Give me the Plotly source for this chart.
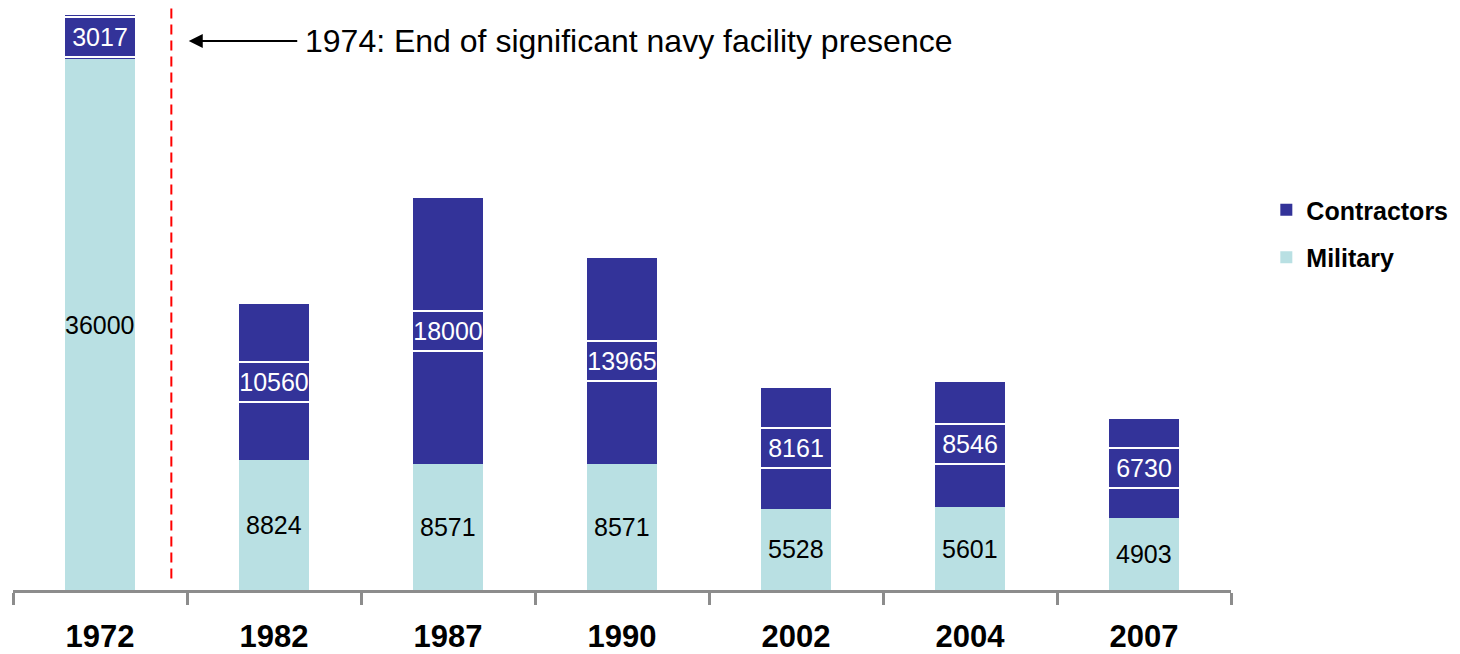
import plotly.graph_objects as go

years = ["1972", "1982", "1987", "1990", "2002", "2004", "2007"]
military = [36000, 8824, 8571, 8571, 5528, 5601, 4903]
contractors = [3017, 10560, 18000, 13965, 8161, 8546, 6730]
event_label = "1974: End of significant navy facility presence"

DARK = "#333399"
LIGHT = "#b9e0e3"
FONT = "Liberation Sans, Arial, sans-serif"

fig = go.Figure()
fig.add_trace(go.Bar(x=years, y=military, name="Military", legendgroup="m", legendrank=2,
                     marker=dict(color=LIGHT, line=dict(width=0)), width=0.4))
fig.add_trace(go.Bar(x=years, y=contractors, name="Contractors", legendgroup="c", legendrank=1,
                     marker=dict(color=DARK, line=dict(width=0)), width=0.4))

for i, yr in enumerate(years):
    fig.add_annotation(x=i, y=military[i] / 2, text=str(military[i]), showarrow=False,
                       font=dict(family=FONT, size=25, color="black"))
    fig.add_annotation(x=i, y=military[i] + contractors[i] / 2, text=str(contractors[i]), showarrow=False,
                       font=dict(family=FONT, size=25, color="white"),
                       bgcolor=DARK, bordercolor="white", borderwidth=2, borderpad=0,
                       width=70, height=38)

ymax = military[0] + contractors[0]

# red dashed vertical line (between 1972 and 1982)
fig.add_shape(type="line", xref="x", yref="paper", x0=0.41, x1=0.41, y0=0.02, y1=1.012,
              line=dict(color="red", width=2, dash="10px,6px"))

# arrow
fig.add_annotation(x=0.51, y=0.955, xref="x", yref="paper", ax=110, ay=0, text="",
                   showarrow=True, arrowhead=2, arrowsize=1.4, arrowwidth=2, arrowcolor="black")
fig.add_annotation(x=0.51, y=0.955, xref="x", yref="paper", xshift=114, text=event_label,
                   showarrow=False, xanchor="left", yanchor="middle",
                   font=dict(family=FONT, size=32, color="black"))

fig.update_layout(
    barmode="stack",
    width=1452, height=646,
    margin=dict(l=5, r=229, t=7, b=64, autoexpand=False),
    plot_bgcolor="white", paper_bgcolor="white",
    showlegend=True,
    legend=dict(x=1.029, y=0.62, xanchor="left", yanchor="middle", traceorder="grouped",
                tracegroupgap=12,
                font=dict(family=FONT, size=25, color="black", weight="bold"),
                bgcolor="rgba(0,0,0,0)", itemwidth=30),
    xaxis=dict(type="category", range=[-0.5, 6.5], showgrid=False, showline=True, automargin=False,
               linecolor="#8c8c8c", linewidth=3, ticks="outside", tickson="boundaries",
               ticklen=12, tickwidth=3, tickcolor="#8c8c8c", ticklabelstandoff=17,
               tickfont=dict(family=FONT, size=31, color="black", weight="bold")),
    yaxis=dict(range=[0, ymax], visible=False, showgrid=False, automargin=False),
)

fig.write_html("out.html")
